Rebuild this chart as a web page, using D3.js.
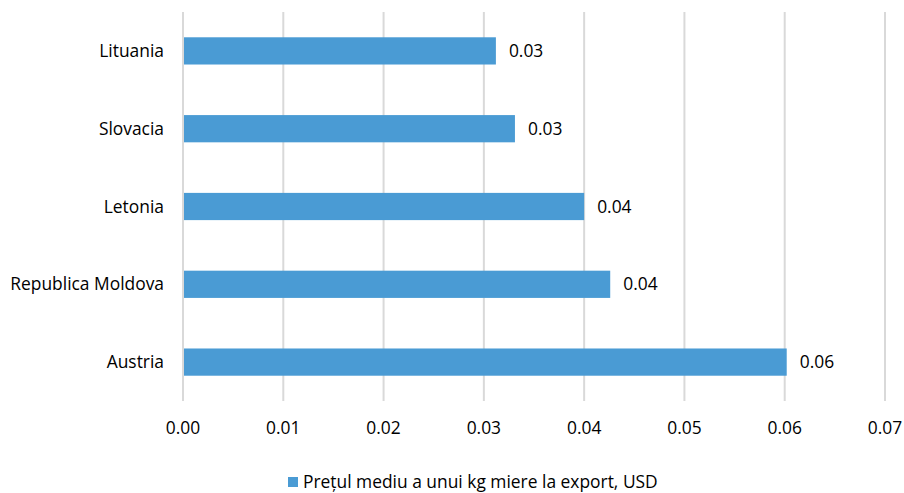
<!DOCTYPE html>
<html><head><meta charset="utf-8">
<script src="https://cdn.jsdelivr.net/npm/d3@7"></script>
<style>body{margin:0;background:#fff;} text{font-family:"Open Sans",sans-serif;fill:#000;}</style>
</head><body>
<svg id="c" width="904" height="493"></svg>
<script>
const categories = ["Lituania","Slovacia","Letonia","Republica Moldova","Austria"];
const values = [0.0312, 0.0331, 0.0400, 0.0426, 0.0602];
const valueLabels = ["0.03","0.03","0.04","0.04","0.06"];
const tickValues = [0,0.01,0.02,0.03,0.04,0.05,0.06,0.07];
const seriesName = "Prețul mediu a unui kg miere la export, USD";

const svg = d3.select("#c");
const mLeft = 183, mRight = 885, mTop = 12, mBottom = 401;
const x = d3.scaleLinear().domain([0,0.07]).range([mLeft,mRight]);
const y = d3.scaleBand().domain(categories).range([mTop,mBottom]).paddingInner(0.65).paddingOuter(0.325);
const color = "#4A9BD4";
const fs = 17.4;

svg.append("g").selectAll("line").data(tickValues).join("line")
  .attr("x1",d=>x(d)).attr("x2",d=>x(d)).attr("y1",mTop).attr("y2",mBottom)
  .attr("stroke","#d9d9d9").attr("stroke-width",2);

svg.append("g").selectAll("rect").data(categories).join("rect")
  .attr("x",x(0)+1).attr("y",d=>y(d))
  .attr("width",(d,i)=>x(values[i])-x(0)-1).attr("height",y.bandwidth())
  .attr("fill",color);

svg.append("g").selectAll("text").data(categories).join("text")
  .attr("x",(d,i)=>x(values[i])+13).attr("y",d=>y(d)+y.bandwidth()/2)
  .attr("dy","0.35em").attr("font-size",fs).text((d,i)=>valueLabels[i]);

svg.append("g").selectAll("text").data(categories).join("text")
  .attr("x",mLeft-19).attr("y",d=>y(d)+y.bandwidth()/2)
  .attr("dy","0.35em").attr("text-anchor","end").attr("font-size",fs).text(d=>d);

svg.append("g").selectAll("text").data(tickValues).join("text")
  .attr("x",d=>x(d)).attr("y",428).attr("dy","0.35em").attr("text-anchor","middle")
  .attr("font-size",fs).text(d=>d3.format(".2f")(d));

const lg = svg.append("g");
lg.append("rect").attr("x",288).attr("y",477).attr("width",10).attr("height",10).attr("fill",color);
lg.append("text").attr("x",303).attr("y",482).attr("dy","0.35em").attr("font-size",fs).text(seriesName);
</script>
</body></html>
